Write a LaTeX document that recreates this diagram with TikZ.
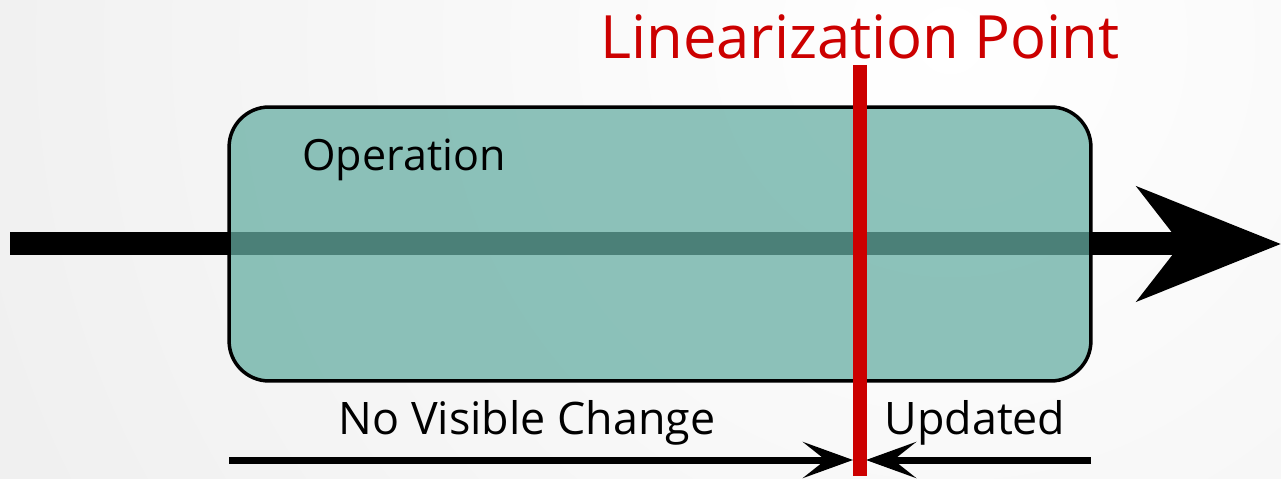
\documentclass[tikz,border=0pt]{standalone}
\usepackage{fontspec}
\setmainfont{Open Sans}
\usetikzlibrary{arrows.meta,positioning}

\definecolor{opteal}{RGB}{102,174,163}
\definecolor{lpred}{RGB}{204,0,0}

\tikzset{
    opbox/.style={draw=black, line width=0.07cm, rounded corners=0.8cm, fill=opteal, fill opacity=0.74,
        minimum width=17.24cm, minimum height=5.48cm, inner sep=0pt},
    timeline/.style={line width=0.46cm, -{Stealth[length=2.86cm, width=2.26cm, inset=0.86cm]}},
    span/.style={line width=0.14cm, -{Stealth[length=1cm, width=0.72cm, inset=0.45cm]}},
    lbl/.style={font=\fontsize{25.5}{30}\selectfont, inner sep=0pt}
}

\begin{document}
\begin{tikzpicture}[x=0.02cm, y=-0.02cm]
    % Background
    \useasboundingbox (0,0) rectangle (1281,479);
    \begin{scope}
        \clip (0,0) rectangle (1281,479);
        \shade[inner color=white, outer color=black!11] (950,40) circle (1900);
    \end{scope}

    % Time line
    \coordinate (tstart) at (10,244);
    \coordinate (tend) at (1281,244);
    \draw [timeline] (tstart) -- (tend);

    % Operation box
    \node [opbox] (op) at (660,244) {};
    \node [font=\fontsize{24.5}{28}\selectfont, inner sep=0pt] (optext) at (404,160) {Operation};

    % Linearization point
    \node [font=\fontsize{34}{40}\selectfont, text=lpred, inner sep=0pt] (lptext) at (860,37) {Linearization Point};
    \coordinate (lptop) at (860,65);
    \coordinate (lpbot) at (860,476);

    % Spans below the box
    \node [lbl] (before) at (527,423) {No Visible Change};
    \node [lbl] (after) at (975,423) {Updated};
    \coordinate (spanl) at (229,460);
    \coordinate (spanlend) at (853,460);
    \coordinate (spanr) at (1091,460);
    \coordinate (spanrend) at (866,460);
    \draw [span] (spanl) -- (spanlend);
    \draw [span] (spanr) -- (spanrend);

    \draw [lpred, line width=0.28cm] (lptop) -- (lpbot);
\end{tikzpicture}
\end{document}
